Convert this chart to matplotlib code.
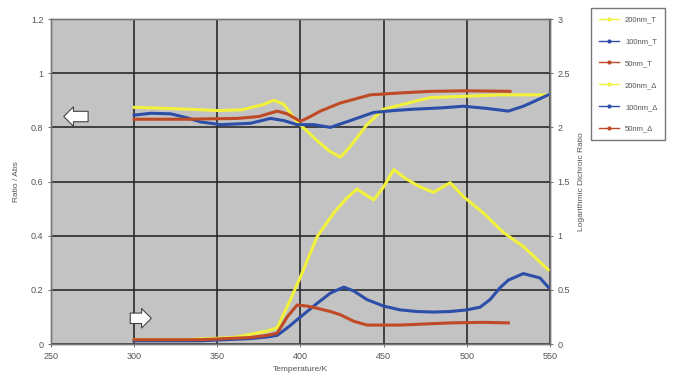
#!/usr/bin/env python3
import numpy as np
import matplotlib
matplotlib.use("Agg")
import matplotlib.pyplot as plt
from matplotlib.ticker import FuncFormatter

#======================================================================#
## data
# ratio curves (left axis)
t_200T = [300, 320, 340, 350, 365, 378, 384, 390, 398, 405, 412, 418, 424, 430, 440, 450, 465, 478, 500, 520, 535, 549]
r_200T = [0.874, 0.87, 0.865, 0.862, 0.865, 0.885, 0.90, 0.885, 0.82, 0.78, 0.74, 0.71, 0.69, 0.73, 0.81, 0.867, 0.89, 0.91, 0.915, 0.92, 0.92, 0.92]

t_100T = [300, 310, 322, 332, 340, 352, 370, 382, 390, 398, 408, 418, 430, 444, 456, 468, 485, 498, 512, 525, 534, 542, 549]
r_100T = [0.845, 0.852, 0.85, 0.835, 0.82, 0.81, 0.815, 0.833, 0.825, 0.81, 0.81, 0.80, 0.825, 0.855, 0.862, 0.867, 0.872, 0.878, 0.87, 0.86, 0.878, 0.90, 0.92]

t_50T = [300, 315, 332, 350, 362, 375, 386, 392, 400, 406, 412, 424, 433, 442, 460, 478, 500, 526]
r_50T = [0.83, 0.83, 0.83, 0.832, 0.833, 0.84, 0.86, 0.85, 0.822, 0.84, 0.86, 0.89, 0.905, 0.92, 0.927, 0.933, 0.935, 0.933]

# dichroic ratio curves (right axis)
t_200D = [300, 330, 360, 370, 380, 386, 394, 400, 410, 420, 428, 434, 444, 450, 456, 464, 472, 480, 490, 498, 510, 522, 534, 549]
d_200D = [0.04, 0.04, 0.06, 0.09, 0.12, 0.15, 0.41, 0.62, 0.99, 1.21, 1.35, 1.43, 1.33, 1.45, 1.61, 1.52, 1.45, 1.40, 1.49, 1.36, 1.21, 1.03, 0.90, 0.685]

t_100D = [300, 340, 370, 380, 386, 393, 400, 410, 418, 426, 432, 440, 450, 460, 470, 480, 490, 500, 508, 514, 520, 525, 534, 544, 549]
d_100D = [0.03, 0.03, 0.05, 0.065, 0.08, 0.16, 0.25, 0.375, 0.47, 0.525, 0.49, 0.41, 0.35, 0.315, 0.30, 0.295, 0.30, 0.315, 0.34, 0.41, 0.52, 0.59, 0.65, 0.61, 0.525]

t_50D = [300, 340, 370, 380, 386, 392, 398, 404, 410, 418, 424, 432, 440, 450, 460, 475, 490, 510, 525]
d_50D = [0.04, 0.04, 0.06, 0.08, 0.10, 0.25, 0.36, 0.35, 0.33, 0.30, 0.27, 0.21, 0.175, 0.175, 0.175, 0.185, 0.195, 0.20, 0.195]

labels = ['200nm_T', '100nm_T', '50nm_T', '200nm_\u0394', '100nm_\u0394', '50nm_\u0394']

#======================================================================#
## plot parameters
c_yel = '#f2f23c'
c_blu = '#2c4ea8'
c_red = '#bf4a26'
c_bg = '#c3c3c3'
lw_data = 2.2
lw_grid = 1.2
fs_tick = 6.5
txt_col = '#555555'
plt.rcParams['font.family'] = ['Liberation Sans', 'DejaVu Sans']

#======================================================================#
def fmt(v, pos):
    return ('%.1f' % v).rstrip('0').rstrip('.') if v != 0 else '0'

def plot_chart():
    fig = plt.figure(figsize=(6.77, 3.79), dpi=100)
    ax = fig.add_axes([0.0753, 0.0923, 0.737, 0.8575])
    ax.set_facecolor(c_bg)
    ax2 = ax.twinx()

    hs = []
    hs += ax.plot(t_200T, r_200T, color=c_yel, lw=lw_data, zorder=3)
    hs += ax.plot(t_100T, r_100T, color=c_blu, lw=lw_data, zorder=3)
    hs += ax.plot(t_50T, r_50T, color=c_red, lw=lw_data, zorder=3)
    hs += ax2.plot(t_200D, d_200D, color=c_yel, lw=lw_data)
    hs += ax2.plot(t_100D, d_100D, color=c_blu, lw=lw_data)
    hs += ax2.plot(t_50D, d_50D, color=c_red, lw=lw_data)

    ax.set_xlim(250, 550)
    ax.set_ylim(0, 1.2)
    ax2.set_ylim(0, 3)
    ax.set_xticks(np.arange(250, 551, 50))
    ax.set_yticks(np.arange(0, 1.21, 0.2))
    ax2.set_yticks(np.arange(0, 3.01, 0.5))
    ax.yaxis.set_major_formatter(FuncFormatter(fmt))
    ax2.yaxis.set_major_formatter(FuncFormatter(fmt))
    ax.grid(True, color='#2a2a2a', lw=lw_grid, zorder=1)
    ax.set_axisbelow(True)

    for a in (ax, ax2):
        a.tick_params(labelsize=fs_tick, colors=txt_col, length=2, width=0.6)
        for s in a.spines.values():
            s.set_color('#777777')
            s.set_linewidth(1.0)

    ax.set_xlabel("Temperature/K", fontsize=6, color=txt_col, labelpad=4)
    ax.set_ylabel("Ratio / Abs", fontsize=6, color=txt_col, labelpad=8)
    ax2.set_ylabel("Logarithmic Dichroic Ratio", fontsize=6, color=txt_col, labelpad=6)

    # hollow arrows pointing to the axis each group belongs to
    arr = dict(arrowstyle='simple,head_width=1.4,head_length=0.7,tail_width=0.75',
               fc='white', ec='#444444', lw=0.8)
    ax.annotate('', xy=(256, 0.84), xytext=(274, 0.84), arrowprops=arr, zorder=5)
    ax.annotate('', xy=(312, 0.095), xytext=(296, 0.095), arrowprops=arr, zorder=5)

    leg = fig.legend(hs, labels, loc='upper left', bbox_to_anchor=(0.868, 0.988),
                     fontsize=5.5, frameon=True, fancybox=False, edgecolor='#555555',
                     handlelength=2.6, labelspacing=1.9, borderpad=1.0, markerscale=1)
    for t in leg.get_texts():
        t.set_color(txt_col)
    for h in leg.get_lines():
        h.set_linewidth(1.0)
        h.set_marker('.')
        h.set_markersize(4)

    fig.savefig("out.png", dpi=100)

#======================================================================#
def main():
    plot_chart()
    print("Ok!")

if __name__ == '__main__':
    main()
